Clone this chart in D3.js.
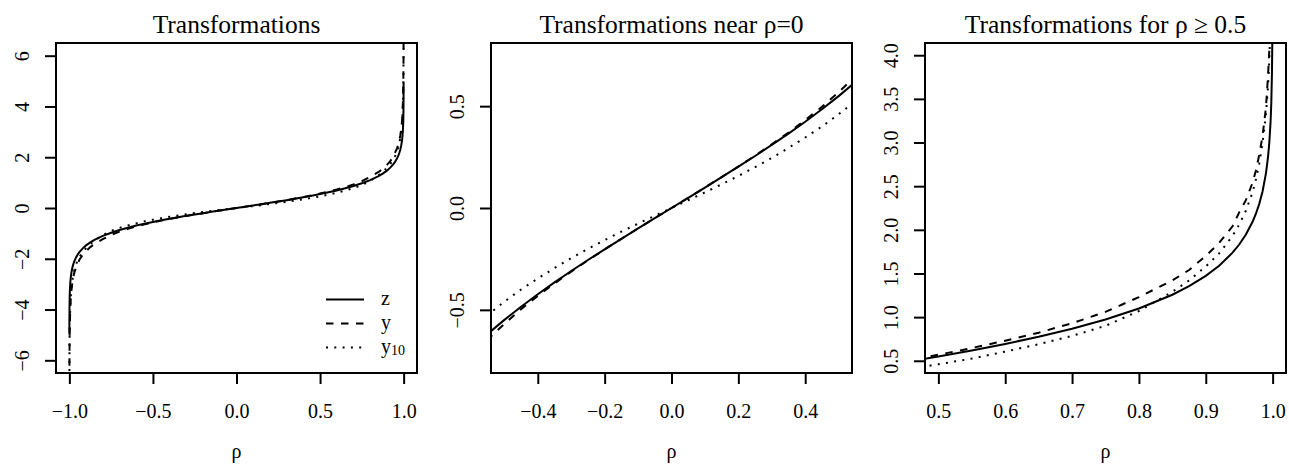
<!doctype html>
<html lang="en">
<head>
<meta charset="UTF-8">
<title>Transformations</title>
<style>
    body { margin: 0; background: #fff; }
    svg { display: block; font-family: "Liberation Serif", "Times New Roman", serif; }
</style>
</head>
<body>
<svg id="chart" width="1289" height="468"></svg>
<script src="https://d3js.org/d3.v7.min.js"></script>
<script>
    // rho grid and the three transformations
    let rho = [-0.9999, -0.9995, -0.999, -0.998, -0.997, -0.995, -0.993, -0.99, -0.985, -0.98, -0.975, -0.97,
        -0.96, -0.95, -0.94, -0.92, -0.9, -0.875, -0.85, -0.8, -0.75, -0.7, -0.65, -0.6, -0.55, -0.5,
        -0.45, -0.4, -0.35, -0.3, -0.25, -0.2, -0.15, -0.1, -0.05, 0,
        0.05, 0.1, 0.15, 0.2, 0.25, 0.3, 0.35, 0.4, 0.45, 0.5, 0.55, 0.6, 0.65, 0.7, 0.75, 0.8,
        0.85, 0.875, 0.9, 0.92, 0.94, 0.95, 0.96, 0.97, 0.975, 0.98, 0.985, 0.99,
        0.993, 0.995, 0.997, 0.998, 0.999, 0.9995, 0.9999];

    let zVals = [-4.9517, -4.1468, -3.8002, -3.452, -3.25, -2.9945, -2.8257, -2.6467, -2.4427, -2.2976, -2.1847, -2.0923,
        -1.9459, -1.8318, -1.738, -1.589, -1.4722, -1.354, -1.2562, -1.0986, -0.973, -0.8673, -0.7753, -0.6931, -0.6184, -0.5493,
        -0.4847, -0.4236, -0.3654, -0.3095, -0.2554, -0.2027, -0.1511, -0.1003, -0.05, 0,
        0.05, 0.1003, 0.1511, 0.2027, 0.2554, 0.3095, 0.3654, 0.4236, 0.4847, 0.5493, 0.6184, 0.6931, 0.7753, 0.8673, 0.973, 1.0986,
        1.2562, 1.354, 1.4722, 1.589, 1.738, 1.8318, 1.9459, 2.0923, 2.1847, 2.2976, 2.4427, 2.6467,
        2.8257, 2.9945, 3.25, 3.452, 3.8002, 4.1468, 4.9517];

    let yVals = [-7.4, -6.05, -5.45, -4.85, -4.5, -4.05, -3.75, -3.4, -3.08, -2.86, -2.68, -2.54,
        -2.34, -2.2, -2.04, -1.85, -1.7, -1.54, -1.42, -1.23, -1.06, -0.93, -0.822, -0.73, -0.646, -0.569,
        -0.4965, -0.4315, -0.3705, -0.3125, -0.257, -0.2035, -0.1515, -0.1004, -0.05, 0,
        0.05, 0.1004, 0.1515, 0.2035, 0.257, 0.3125, 0.3705, 0.4315, 0.4965, 0.569, 0.646, 0.73, 0.822, 0.93, 1.06, 1.23,
        1.42, 1.54, 1.7, 1.85, 2.04, 2.2, 2.34, 2.54, 2.68, 2.86, 3.08, 3.4,
        3.75, 4.05, 4.5, 4.85, 5.45, 6.05, 7.4];

    let y10Vals = [-7.4, -6.0, -5.4, -4.75, -4.4, -3.95, -3.63, -3.33, -3.0, -2.76, -2.58, -2.43,
        -2.22, -2.06, -1.93, -1.73, -1.58, -1.42, -1.29, -1.07, -0.9, -0.785, -0.69, -0.605, -0.525, -0.46,
        -0.4, -0.346, -0.295, -0.246, -0.2005, -0.1575, -0.1163, -0.0767, -0.038, 0,
        0.038, 0.0767, 0.1163, 0.1575, 0.2005, 0.246, 0.295, 0.346, 0.4, 0.46, 0.525, 0.605, 0.69, 0.785, 0.9, 1.07,
        1.29, 1.42, 1.58, 1.73, 1.93, 2.06, 2.22, 2.43, 2.58, 2.76, 3.0, 3.33,
        3.63, 3.95, 4.4, 4.75, 5.4, 6.0, 7.4];

    let titles = ["Transformations", "Transformations near \u03c1=0", "Transformations for \u03c1 \u2265 0.5"];
    let xDomains = [[-1.08, 1.08], [-0.54, 0.54], [0.48, 1.02]];
    let yDomains = [[-6.5, 6.5], [-0.81, 0.81], [0.36, 4.14]];
    let xTicks = [[-1, -0.5, 0, 0.5, 1], [-0.4, -0.2, 0, 0.2, 0.4], [0.5, 0.6, 0.7, 0.8, 0.9, 1.0]];
    let yTicks = [[-6, -4, -2, 0, 2, 4, 6], [-0.5, 0, 0.5], [0.5, 1, 1.5, 2, 2.5, 3, 3.5, 4]];
    let yFormats = ["d", ".1f", ".1f"];
    let seriesNames = ["z", "y", "y10"];

    let curves = [zVals, yVals, y10Vals];
    let dashes = [null, "7.5,7.5", "2,6.3"];

    let svg = d3.select("#chart");
    let plotTop = 43, plotBottom = 373, boxW = 361;
    let lefts = [56, 491, 925];

    titles.forEach(function (title, i) {
        let left = lefts[i];
        let x = d3.scaleLinear().domain(xDomains[i]).range([left, left + boxW]);
        let y = d3.scaleLinear().domain(yDomains[i]).range([plotBottom, plotTop]);
        let g = svg.append("g");

        g.append("clipPath").attr("id", "clip" + i)
            .append("rect")
            .attr("x", left).attr("y", plotTop)
            .attr("width", boxW).attr("height", plotBottom - plotTop);

        let line = d3.line()
            .x((d, k) => x(rho[k]))
            .y((d) => y(d));

        curves.forEach(function (vals, j) {
            g.append("path")
                .datum(vals)
                .attr("clip-path", "url(#clip" + i + ")")
                .attr("d", line)
                .attr("fill", "none")
                .attr("stroke", "#000")
                .attr("stroke-width", 2)
                .attr("stroke-dasharray", dashes[j]);
        });

        // box
        g.append("rect")
            .attr("x", left).attr("y", plotTop)
            .attr("width", boxW).attr("height", plotBottom - plotTop)
            .attr("fill", "none")
            .attr("stroke", "#000")
            .attr("stroke-width", 2);

        // x axis
        let ax = g.append("g")
            .attr("transform", "translate(0," + plotBottom + ")")
            .call(d3.axisBottom(x)
                .tickValues(xTicks[i])
                .tickFormat(d3.format(".1f"))
                .tickSize(11)
                .tickPadding(20));
        ax.attr("font-family", null).attr("font-size", 20);
        ax.select(".domain").remove();
        ax.selectAll("line").attr("stroke-width", 2);

        // y axis, labels parallel to the axis
        let ay = g.append("g")
            .attr("transform", "translate(" + left + ",0)")
            .call(d3.axisLeft(y)
                .tickValues(yTicks[i])
                .tickFormat(d3.format(yFormats[i]))
                .tickSize(11));
        ay.attr("font-family", null).attr("font-size", 20);
        ay.select(".domain").remove();
        ay.selectAll("line").attr("stroke-width", 2);
        ay.selectAll("text")
            .attr("x", null).attr("dy", null)
            .attr("text-anchor", "middle")
            .attr("transform", "translate(-27,0) rotate(-90)");

        // title and axis label
        g.append("text")
            .attr("x", left + boxW / 2).attr("y", 33)
            .attr("text-anchor", "middle")
            .attr("font-size", 25.5)
            .text(title);

        g.append("text")
            .attr("x", left + boxW / 2).attr("y", 458)
            .attr("text-anchor", "middle")
            .attr("font-size", 20)
            .text("\u03c1");
    });

    // legend in first panel
    let legend = svg.append("g");
    seriesNames.forEach(function (name, j) {
        let ly = 299.5 + j * 24;
        legend.append("line")
            .attr("x1", 326).attr("x2", 364)
            .attr("y1", ly).attr("y2", ly)
            .attr("stroke", "#000")
            .attr("stroke-width", 2)
            .attr("stroke-dasharray", dashes[j]);
        let t = legend.append("text")
            .attr("x", 381).attr("y", ly + 5)
            .attr("font-size", 20)
            .text(name.charAt(0));
        if (name.length > 1) {
            t.append("tspan")
                .attr("font-size", 14)
                .attr("dy", 2)
                .text(name.slice(1));
        }
    });
</script>
</body>
</html>
